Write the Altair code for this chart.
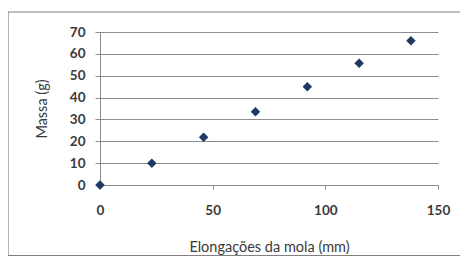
import altair as alt
import pandas as pd

elongacao = [0, 23, 46, 69, 92, 115, 138]
massa = [0, 10, 21.8, 33.5, 45, 55.7, 66]

df = pd.DataFrame({"x": elongacao, "y": massa})

W, H = 338, 153
PL, PT = 92, 24
PR, PB = 22, 72

font = "Lato"

points = alt.Chart(df).mark_point(
    shape="diamond", filled=True, size=90, color="#1f3864", opacity=1
).encode(
    x=alt.X("x:Q", scale=alt.Scale(domain=[0, 150], nice=False),
            axis=alt.Axis(values=[0, 50, 100, 150], title="Elongações da mola (mm)",
                          grid=False, domainColor="#8c8c8c", tickColor="#8c8c8c",
                          tickSize=4, labelPadding=14, titlePadding=24,
                          labelFlush=False)),
    y=alt.Y("y:Q", scale=alt.Scale(domain=[0, 70], nice=False),
            axis=alt.Axis(values=[0, 10, 20, 30, 40, 50, 60, 70], title="Massa (g)",
                          grid=True, gridColor="#8c8c8c", domainColor="#8c8c8c",
                          tickColor="#8c8c8c", tickSize=5, labelPadding=10,
                          titlePadding=20, labelFlush=False)),
)

base = alt.Chart(pd.DataFrame({"a": [0]}))
rule_style = dict(stroke="#7f7f7f", strokeWidth=1.2, clip=False)
top = base.mark_rule(**rule_style).encode(
    x=alt.value(-PL), x2=alt.value(W + PR), y=alt.value(-20))
bottom = base.mark_rule(**rule_style).encode(
    x=alt.value(-PL), x2=alt.value(W + PR), y=alt.value(H + PB - 1.5))
left = base.mark_rule(**rule_style).encode(
    x=alt.value(-PL), y=alt.value(-20), y2=alt.value(H + PB - 1.5))

chart = alt.layer(top, bottom, left, points).properties(
    width=W, height=H,
    autosize=alt.AutoSizeParams(type="none"),
    padding={"left": PL, "top": PT, "right": PR, "bottom": PB},
    background="white",
).configure_view(stroke=None).configure_axis(
    labelFont=font, titleFont=font, labelFontSize=13.5, titleFontSize=14.5,
    labelColor="#3a3a3a", titleColor="#3a3a3a", titleFontWeight="normal",
    labelFontWeight="bold",
)

chart.save("out.html", embed_options={"renderer": "svg", "actions": False})
